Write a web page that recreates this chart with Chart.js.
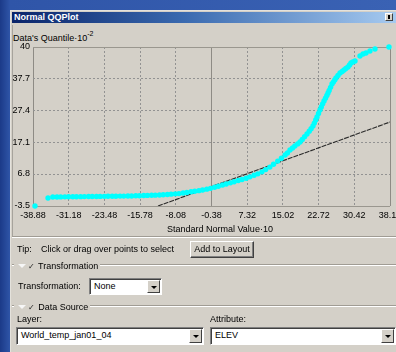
<!DOCTYPE html>
<html>
<head>
<meta charset="utf-8">
<script src="https://cdn.jsdelivr.net/npm/chart.js"></script>
<style>
  body { margin:0; width:396px; height:352px; overflow:hidden; position:relative;
    background: linear-gradient(90deg, #1b3a88 0, #2f55a8 10px, #3a62b4 100%);
    font-family: 'Liberation Sans', Arial, sans-serif; font-size:9px; color:#000; }
  .win { position:absolute; left:10px; top:10px; width:392px; height:350px; background:#d4d0c8;
    border-top:1px solid #e4e2dc; border-left:1px solid #e4e2dc; }
  .title { position:absolute; left:12px; top:12px; width:384px; height:11px;
    background: linear-gradient(90deg, #0a246a 0, #3a6ab0 45%, #a6caf0 100%);
    color:#fff; font-weight:bold; line-height:11px; }
  .title span { position:absolute; left:2px; top:0; }
  .pin { position:absolute; left:385px; top:13px; width:8px; height:8px; background:#d4d0c8;
    border:1px solid; border-color:#fff #404040 #404040 #fff; box-sizing:border-box; }
  .pin i { position:absolute; left:2px; top:1px; width:2px; height:4px; background:#000; }
  .panel { position:absolute; left:12px; top:25px; width:386px; height:212px; border-left:1px solid #a6a39c; }
  .t { position:absolute; white-space:nowrap; line-height:11px; }
  .t sup { font-size:7px; vertical-align:5px; }
  #plot { position:absolute; left:0; top:40px; }
  .sep { position:absolute; left:12px; width:386px; height:0; border-top:1px solid #a09c94; border-bottom:1px solid #fff; }
  .btn { position:absolute; background:#d4d0c8; border:1px solid; border-color:#fff #404040 #404040 #fff;
    box-shadow: inset -1px -1px #808080; box-sizing:border-box; text-align:center; line-height:15px; }
  .grp { position:absolute; background:#d4d0c8; padding:0 2px 0 4px; line-height:11px; white-space:nowrap; }
  .grp b { display:inline-block; width:0; height:0; border-left:4px solid transparent; border-right:4px solid transparent;
    border-top:4px solid #f6f6f6; margin-right:2px; vertical-align:1px; }
  .grp em { font-style:normal; font-family:'DejaVu Sans'; font-size:8px; color:#222; margin-right:1px; }
  .combo { position:absolute; background:#fff; border:1px solid; border-color:#808080 #fff #fff #808080;
    box-shadow: inset 1px 1px #404040; box-sizing:border-box; line-height:15px; padding-left:4px; }
  .arrow { position:absolute; right:1px; top:1px; width:13px; background:#d4d0c8; border:1px solid;
    border-color:#fff #404040 #404040 #fff; box-sizing:border-box; }
  .arrow i { position:absolute; left:3px; top:5px; width:0; height:0; border-left:3px solid transparent;
    border-right:3px solid transparent; border-top:3px solid #000; }
</style>
</head>
<body>
<div class="win"></div>
<div class="title"><span>Normal QQPlot</span></div>
<div class="pin"><i></i></div>
<div class="panel"></div>
<div class="t" style="left:13px;top:28px;">Data's Quantile·10<sup>-2</sup></div>
<canvas id="plot" width="396" height="196"></canvas>
<div class="t" style="left:167px;top:224px;">Standard Normal Value·10</div>
<div class="sep" style="top:236px;"></div>

<div class="t" style="left:17px;top:244px;">Tip:</div>
<div class="t" style="left:41px;top:244px;">Click or drag over points to select</div>
<div class="btn" style="left:190px;top:241px;width:64px;height:17px;">Add to Layout</div>

<div class="sep" style="top:264px;"></div>
<div class="grp" style="left:14px;top:261px;"><b></b><em>✓</em> Transformation</div>
<div class="t" style="left:18px;top:281px;">Transformation:</div>
<div class="combo" style="left:89px;top:278px;width:73px;height:17px;">None<div class="arrow" style="height:13px;"><i></i></div></div>

<div class="sep" style="top:305px;"></div>
<div class="grp" style="left:14px;top:302px;"><b></b><em>✓</em> Data Source</div>
<div class="t" style="left:17px;top:314px;">Layer:</div>
<div class="combo" style="left:16px;top:327px;width:188px;height:18px;">World_temp_jan01_04<div class="arrow" style="height:14px;"><i></i></div></div>
<div class="t" style="left:210px;top:314px;">Attribute:</div>
<div class="combo" style="left:210px;top:327px;width:186px;height:18px;">ELEV<div class="arrow" style="height:14px;"><i></i></div></div>

<script>
// tick positions and the labels as printed on the dialog
const xTicks = [-38.88, -31.18, -23.48, -15.78, -8.08, -0.38, 7.32, 15.02, 22.72, 30.42, 38.12]
const xTickLabels = ['-38.88', '-31.18', '-23.48', '-15.78', '-8.08', '-0.38', '7.32', '15.02', '22.72', '30.42', '38.12']
const yTicks = [-3.5, 6.8, 17.1, 27.4, 37.7, 47.7]
const yTickLabels = ['-3.5', '6.8', '17.1', '27.4', '37.7', '40']

// standard normal value (x10) vs data quantile (x10^-2)
const normalValues = [-38.45, -35.64,
  -34.6, -33.7, -32.9, -32.0, -31.2, -30.3, -29.5, -28.6, -27.8, -26.9,
  -26.1, -25.2, -24.4, -23.5, -22.7, -21.8, -21.0, -20.1, -19.3, -18.4,
  -17.6, -16.7, -15.9, -15.0, -14.2, -13.3, -12.5, -11.6, -10.8, -9.9,
  -9.1, -8.2, -7.4, -6.5, -5.7, -4.8, -4.0, -3.1, -2.3, -1.4,
  -0.6, 0.3, 1.1, 2.0, 2.8, 3.7, 4.5, 5.4, 6.2, 7.1,
  7.9, 8.8, 9.6, 10.5, 11.3, 12.2, 13.0, 13.9, 14.7,
  15.5, 16.0, 16.55, 17.1, 17.6, 18.2, 18.71, 19.2, 19.7, 20.22,
  20.7, 21.1, 21.51, 21.8, 22.1, 22.38, 22.7, 23.02, 23.3, 23.6,
  23.89, 24.2, 24.5, 24.75, 25.0, 25.3, 25.61, 25.9, 26.2, 26.47,
  26.9, 27.34, 27.8, 28.2, 28.6, 29.06, 29.4, 29.71, 30.1, 30.57,
  31.65, 32.30, 32.94, 33.80, 34.88, 37.90]
const dataQuantiles = [-3.5, -0.92,
  -0.60, -0.58, -0.57, -0.55, -0.54, -0.52, -0.50, -0.49, -0.47, -0.45,
  -0.44, -0.42, -0.41, -0.39, -0.37, -0.36, -0.34, -0.32, -0.31, -0.29,
  -0.26, -0.22, -0.18, -0.13, -0.09, -0.05, -0.01, 0.03, 0.12, 0.22,
  0.31, 0.41, 0.50, 0.68, 0.86, 1.07, 1.25, 1.45, 1.63, 1.93,
  2.19, 2.53, 2.86, 3.25, 3.57, 3.95, 4.30, 4.69, 5.05, 5.44,
  5.88, 6.39, 6.86, 7.50, 8.22, 9.02, 9.93, 10.96, 11.90,
  12.9, 13.6, 14.53, 15.2, 15.8, 16.5, 17.11, 17.9, 18.8, 19.68,
  20.6, 21.4, 22.26, 23.2, 24.2, 25.16, 26.3, 27.41, 28.4, 29.4,
  30.31, 31.2, 32.1, 32.89, 33.7, 34.7, 35.78, 36.4, 37.1, 37.72,
  38.5, 39.33, 39.8, 40.3, 40.8, 41.26, 41.9, 42.55, 42.9, 43.19,
  44.80, 45.45, 45.77, 46.41, 47.05, 47.70]

// reference line
const refLineX = [-11.92, 38.12]
const refLineY = [-3.5, 23.54]

const tickFont = {family: "'Liberation Sans', Arial, sans-serif", size: 9}

function solidLine(c, list) {
    if (!c.tick) return false
    let v = c.tick.value
    return v === list[0] || v === list[list.length - 1] || v === -0.38
}

new Chart(document.getElementById('plot').getContext('2d'), {
    type: 'scatter',
    data: {
        datasets: [{
            data: normalValues.map((x, i) => ({x: x, y: dataQuantiles[i]})),
            backgroundColor: '#00ffff',
            borderWidth: 0,
            pointRadius: 2.7,
            clip: false
        }, {
            data: refLineX.map((x, i) => ({x: x, y: refLineY[i]})),
            showLine: true,
            borderColor: '#2a2a2a',
            borderWidth: 1.1,
            borderDash: [5, 1],
            pointRadius: 0
        }]
    },
    options: {
        responsive: false,
        animation: false,
        events: [],
        layout: {padding: {left: 0, top: 7, right: 6, bottom: 0}},
        plugins: {legend: {display: false}, tooltip: {enabled: false}},
        scales: {
            x: {
                type: 'linear',
                min: xTicks[0],
                max: xTicks[xTicks.length - 1],
                afterBuildTicks: s => { s.ticks = xTicks.map(v => ({value: v})) },
                afterFit: s => { s.height = 30; s.paddingLeft = 0; s.paddingRight = 0 },
                grid: {drawTicks: false, color: c => solidLine(c, xTicks) ? '#8e8b85' : '#929292'},
                border: {display: false, dash: c => solidLine(c, xTicks) ? [] : [2, 2]},
                ticks: {autoSkip: false, maxRotation: 0, padding: 4, color: '#000', font: tickFont,
                    callback: (v, i) => xTickLabels[i]}
            },
            y: {
                type: 'linear',
                min: yTicks[0],
                max: yTicks[yTicks.length - 1],
                afterBuildTicks: s => { s.ticks = yTicks.map(v => ({value: v})) },
                afterFit: s => { s.width = 33; s.paddingTop = 0; s.paddingBottom = 0 },
                grid: {drawTicks: false, color: c => solidLine(c, yTicks) ? '#9a978f' : '#929292'},
                border: {display: false, dash: c => solidLine(c, yTicks) ? [] : [2, 2]},
                ticks: {autoSkip: false, padding: 3, color: '#000', font: tickFont,
                    callback: (v, i) => yTickLabels[i]}
            }
        }
    }
})
</script>
</body>
</html>
